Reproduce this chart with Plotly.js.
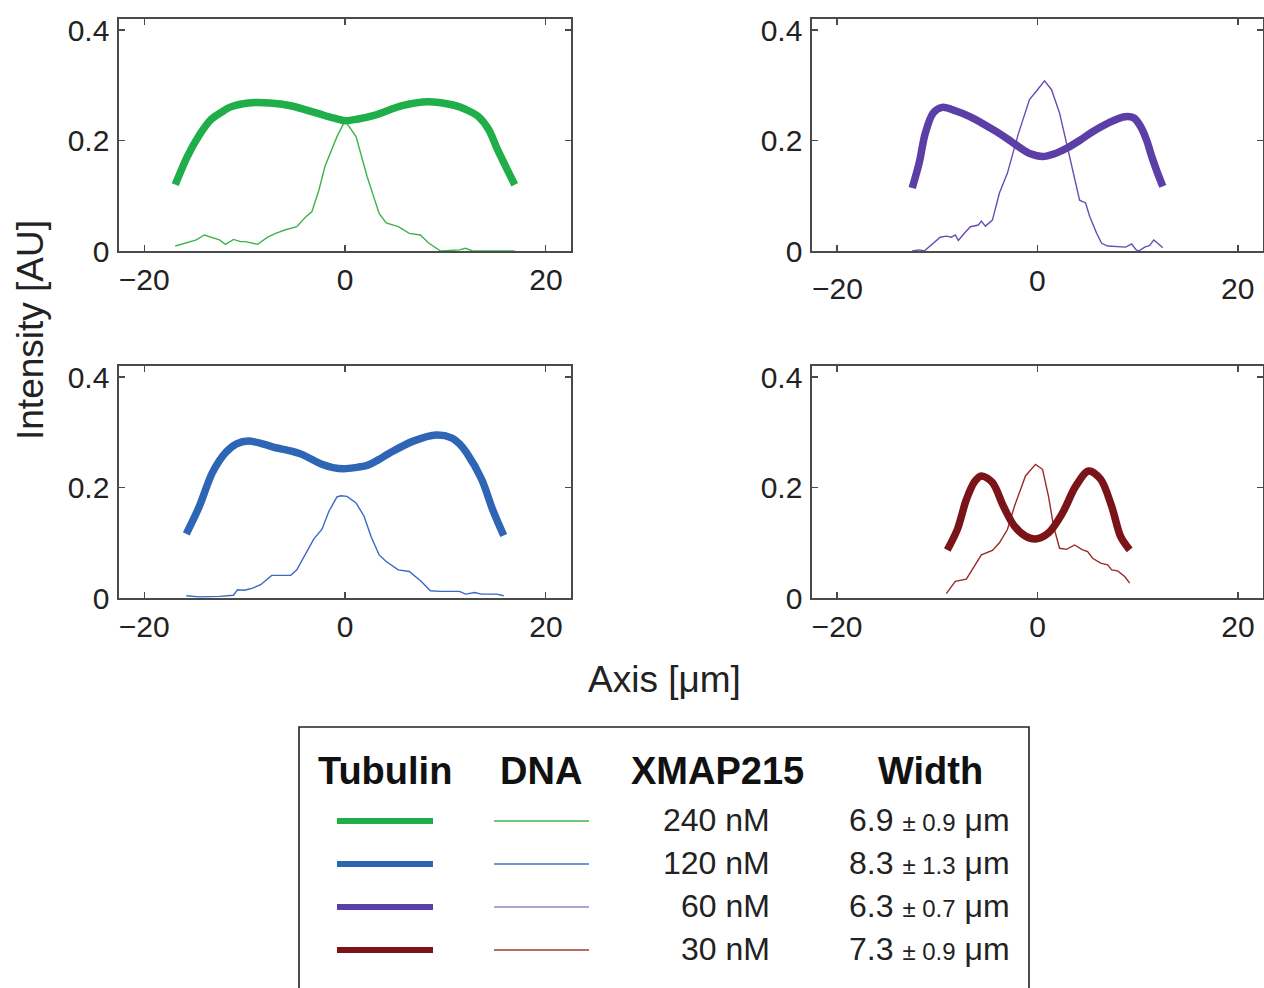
<!DOCTYPE html>
<html>
<head>
<meta charset="utf-8">
<script src="https://cdn.plot.ly/plotly-3.0.1.min.js"></script>
<style>html,body{margin:0;padding:0;background:#fff;}#chart{width:1264px;height:988px;}</style>
</head>
<body>
<div id="chart"></div>
<script>
// ---------- DATA ----------
// 240 nM (green) — top-left
const tub240X = [-16.9, -15.7, -14.5, -13.4, -12.4, -11.5, -9.6, -7.5, -5.4, -2.7, -1.2, 0, 1.3, 3, 5.7, 8.3, 10, 11.4, 12.4, 13.3, 14.3, 15.2, 16.9];
const tub240Y = [0.12, 0.171, 0.21, 0.237, 0.25, 0.26, 0.268, 0.268, 0.263, 0.249, 0.241, 0.236, 0.239, 0.246, 0.263, 0.27, 0.267, 0.261, 0.253, 0.243, 0.22, 0.183, 0.12];
const dna240X = [-16.9, -15.5, -14.8, -14, -13.2, -12.5, -11.9, -11.1, -10.4, -9.9, -8.7, -7.7, -6.9, -6, -4.8, -3.9, -3.3, -2.6, -2, -0.8, 0, 1.1, 2.2, 3.4, 4.1, 5.3, 6.4, 7.5, 8.3, 9.5, 11.4, 12, 12.7, 16.9];
const dna240Y = [0.009, 0.016, 0.02, 0.029, 0.024, 0.02, 0.012, 0.021, 0.017, 0.017, 0.012, 0.025, 0.032, 0.038, 0.044, 0.062, 0.071, 0.11, 0.153, 0.207, 0.236, 0.207, 0.135, 0.068, 0.051, 0.044, 0.032, 0.029, 0.015, 0.0, 0.002, 0.005, 0, 0];

// 60 nM (purple) — top-right
const tub60X = [-12.5, -11.8, -11.2, -10.4, -9.5, -8.2, -6.7, -5.4, -4.1, -3, -1.9, -0.7, 0.5, 1.7, 2.9, 4.2, 5.5, 7.1, 8.7, 9.6, 10.3, 10.9, 11.4, 12, 12.5];
const tub60Y = [0.114, 0.16, 0.213, 0.25, 0.26, 0.254, 0.243, 0.23, 0.216, 0.203, 0.189, 0.176, 0.171, 0.176, 0.186, 0.2, 0.216, 0.232, 0.243, 0.241, 0.225, 0.2, 0.171, 0.14, 0.117];
const dna60X = [-12.5, -11.8, -11.3, -10.5, -9.7, -9.1, -8.6, -8.2, -7.9, -7.3, -6.7, -5.9, -5.6, -5.2, -4.5, -3.8, -3, -1.9, -0.8, 0, 0.7, 1.4, 2.2, 2.9, 3.7, 4.2, 4.8, 5.2, 5.9, 6.4, 7, 8.8, 9.4, 9.8, 10.1, 10.7, 11.2, 11.6, 12, 12.5];
const dna60Y = [0, 0.002, 0, 0.012, 0.025, 0.027, 0.025, 0.029, 0.019, 0.032, 0.044, 0.047, 0.054, 0.045, 0.056, 0.105, 0.141, 0.213, 0.274, 0.292, 0.308, 0.292, 0.25, 0.195, 0.135, 0.092, 0.087, 0.063, 0.032, 0.014, 0.009, 0.007, 0.013, 0.003, 0, 0.007, 0.01, 0.02, 0.014, 0.006];

// 120 nM (blue) — bottom-left
const tub120X = [-15.8, -14.5, -13.2, -11.9, -10.8, -9.6, -8.2, -6.9, -5.6, -4.3, -2.3, -1.2, -0.1, 1, 2.2, 3.3, 4.5, 6.8, 9.1, 10.6, 11.4, 12.1, 13.6, 14.7, 15.8];
const tub120Y = [0.116, 0.166, 0.227, 0.263, 0.279, 0.284, 0.279, 0.272, 0.267, 0.26, 0.242, 0.236, 0.234, 0.236, 0.24, 0.25, 0.263, 0.284, 0.295, 0.29, 0.279, 0.263, 0.215, 0.16, 0.113];
const dna120X = [-15.8, -14.5, -12.5, -11.1, -10.7, -10, -9.2, -8.4, -7.3, -6.3, -5.4, -4.8, -3.9, -3.1, -2.3, -1.6, -0.8, -0.4, 0.2, 1.1, 1.9, 2.6, 3.4, 4.1, 5.3, 6.4, 7.6, 8.5, 9.5, 10.6, 11.4, 12, 12.9, 13.6, 15.1, 15.8];
const dna120Y = [0.004, 0.002, 0.003, 0.005, 0.015, 0.014, 0.018, 0.024, 0.041, 0.041, 0.041, 0.051, 0.081, 0.107, 0.124, 0.157, 0.183, 0.185, 0.184, 0.172, 0.148, 0.111, 0.078, 0.066, 0.051, 0.048, 0.03, 0.013, 0.012, 0.012, 0.012, 0.007, 0.01, 0.007, 0.007, 0.004];

// 30 nM (dark red) — bottom-right
const tub30X = [-9, -8, -7.1, -6.3, -5.6, -4.5, -3.4, -2.3, -1.2, -0.2, 1.1, 2.5, 3.8, 5.1, 6.3, 7.4, 8.3, 9.2];
const tub30Y = [0.087, 0.124, 0.178, 0.21, 0.221, 0.209, 0.166, 0.13, 0.112, 0.107, 0.118, 0.154, 0.202, 0.23, 0.215, 0.166, 0.111, 0.087];
const dna30X = [-9.1, -8.2, -7.1, -6.3, -5.6, -4.5, -3.8, -3, -2.3, -1.2, -0.2, 0.5, 1.1, 1.6, 2.2, 2.9, 3.7, 4.5, 5, 5.5, 6.3, 7, 7.4, 8, 8.7, 9.2];
const dna30Y = [0.008, 0.03, 0.034, 0.057, 0.078, 0.086, 0.1, 0.124, 0.166, 0.221, 0.242, 0.233, 0.184, 0.13, 0.09, 0.088, 0.096, 0.087, 0.084, 0.072, 0.063, 0.06, 0.051, 0.049, 0.039, 0.027];

// Legend table
const concLabels = ['240 nM', '120 nM', '60 nM', '30 nM'];
const widthMean = ['6.9', '8.3', '6.3', '7.3'];
const widthSD = ['0.9', '1.3', '0.7', '0.9'];
const headers = ['Tubulin', 'DNA', 'XMAP215', 'Width'];

const xTickVals = [-20, 0, 20];
const xTickText = ['\u221220', '0', '20'];
const yTickVals = [0, 0.2, 0.4];
const yTickText = ['0', '0.2', '0.4'];

// ---------- STYLE ----------
const W = 1264, H = 988;
const px = v => v / W;
const py = v => 1 - v / H;
const FONT = '"Liberation Sans", Arial, Helvetica, sans-serif';
const TXT = '#222222';
const AX = '#4a4a4a';

const colThick = ['#1fae49', '#2e65b5', '#5b3ea6', '#7a1418'];
const colThin = ['#3cb44b', '#3a68c2', '#6a4bb3', '#9a2a28'];
const colThinLegend = ['#3cb44b', '#4a72c8', '#9a85cc', '#a23a30'];

function thick(x, y, c, xa, ya) {
  return {x, y, xaxis: xa, yaxis: ya, type: 'scatter', mode: 'lines',
    line: {color: c, width: 7.5, shape: 'spline', smoothing: 0.9}, hoverinfo: 'skip', showlegend: false};
}
function thin(x, y, c, xa, ya) {
  return {x, y, xaxis: xa, yaxis: ya, type: 'scatter', mode: 'lines',
    line: {color: c, width: 1.4}, hoverinfo: 'skip', showlegend: false};
}

const traces = [
  thin(dna240X, dna240Y, colThin[0], 'x', 'y'),
  thick(tub240X, tub240Y, colThick[0], 'x', 'y'),
  thin(dna60X, dna60Y, colThin[2], 'x2', 'y2'),
  thick(tub60X, tub60Y, colThick[2], 'x2', 'y2'),
  thin(dna120X, dna120Y, colThin[1], 'x3', 'y3'),
  thick(tub120X, tub120Y, colThick[1], 'x3', 'y3'),
  thin(dna30X, dna30Y, colThin[3], 'x4', 'y4'),
  thick(tub30X, tub30Y, colThick[3], 'x4', 'y4'),
];

const colDom = [[px(119), px(571)], [px(812), px(1263)]];
const rowDom = [[py(251), py(19)], [py(598), py(366)]];

function xax(dom, anchor, showLabels) {
  return {domain: dom, anchor, range: [-22.5, 22.5], tickmode: 'array', tickvals: xTickVals, ticktext: xTickText,
    showticklabels: showLabels, ticks: 'inside', ticklen: 6, tickwidth: 1.2, tickcolor: AX,
    showline: true, linecolor: AX, linewidth: 1.6, mirror: 'ticks', showgrid: false, zeroline: false,
    ticklabelstandoff: 1, tickfont: {family: FONT, size: 30, color: TXT}, fixedrange: true};
}
function yax(dom, anchor) {
  return {domain: dom, anchor, range: [0, 0.42], tickmode: 'array', tickvals: yTickVals, ticktext: yTickText,
    ticks: 'inside', ticklen: 6, tickwidth: 1.2, tickcolor: AX,
    showline: true, linecolor: AX, linewidth: 1.6, mirror: 'ticks', showgrid: false, zeroline: false,
    ticklabelstandoff: 2, tickfont: {family: FONT, size: 30, color: TXT}, fixedrange: true};
}

const annotations = [];
const shapes = [];

// top-right x tick labels (staggered as in the reference)
const trLabelY = [288, 281, 288];
xTickVals.forEach((v, i) => {
  annotations.push({xref: 'x2', yref: 'paper', x: v, y: py(trLabelY[i]), text: xTickText[i], showarrow: false,
    xanchor: 'center', yanchor: 'middle', font: {family: FONT, size: 30, color: TXT}});
});

// axis titles
annotations.push({xref: 'paper', yref: 'paper', x: px(30), y: py(330), text: 'Intensity [AU]', textangle: -90,
  showarrow: false, xanchor: 'center', yanchor: 'middle', font: {family: FONT, size: 37, color: TXT}});
annotations.push({xref: 'paper', yref: 'paper', x: px(664), y: py(679), text: 'Axis [\u03bcm]',
  showarrow: false, xanchor: 'center', yanchor: 'middle', font: {family: FONT, size: 37, color: TXT}});

// legend box
shapes.push({type: 'rect', xref: 'paper', yref: 'paper', x0: px(299), x1: px(1029), y0: py(995), y1: py(727),
  line: {color: '#222', width: 1.6}, fillcolor: 'rgba(0,0,0,0)'});

// legend headers
const headerX = [385, 541, 717, 930];
headers.forEach((h, i) => {
  annotations.push({xref: 'paper', yref: 'paper', x: px(headerX[i]), y: py(771), text: '<b>' + h + '</b>',
    showarrow: false, xanchor: 'center', yanchor: 'middle', font: {family: FONT, size: 38, color: '#111'}});
});

// legend rows
const rowY = [820, 863, 906, 949];
concLabels.forEach((c, i) => {
  const y = rowY[i];
  shapes.push({type: 'line', xref: 'paper', yref: 'paper', x0: px(337), x1: px(433), y0: py(y + 1), y1: py(y + 1),
    line: {color: colThick[i], width: 6}});
  shapes.push({type: 'line', xref: 'paper', yref: 'paper', x0: px(494), x1: px(589), y0: py(y + 1), y1: py(y + 1),
    line: {color: colThinLegend[i], width: 1.6}});
  annotations.push({xref: 'paper', yref: 'paper', x: px(772), y: py(y), text: c, showarrow: false,
    xanchor: 'right', yanchor: 'middle', font: {family: FONT, size: 32, color: TXT}});
  annotations.push({xref: 'paper', yref: 'paper', x: px(847), y: py(y), showarrow: false,
    text: widthMean[i] + ' <span style="font-size:24px">\u00b1 ' + widthSD[i] + '</span> \u03bcm',
    xanchor: 'left', yanchor: 'middle', font: {family: FONT, size: 32, color: TXT}});
});

const layout = {
  width: W, height: H, margin: {l: 0, r: 0, t: 0, b: 0},
  paper_bgcolor: '#fff', plot_bgcolor: '#fff', showlegend: false,
  xaxis: xax(colDom[0], 'y', true), yaxis: yax(rowDom[0], 'x'),
  xaxis2: xax(colDom[1], 'y2', false), yaxis2: yax(rowDom[0], 'x2'),
  xaxis3: xax(colDom[0], 'y3', true), yaxis3: yax(rowDom[1], 'x3'),
  xaxis4: xax(colDom[1], 'y4', true), yaxis4: yax(rowDom[1], 'x4'),
  annotations, shapes
};

Plotly.newPlot('chart', traces, layout, {displayModeBar: false, staticPlot: true});
</script>
</body>
</html>
